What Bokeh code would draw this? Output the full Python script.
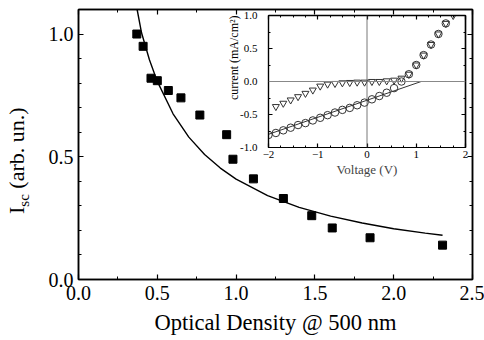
from bokeh.plotting import figure
from bokeh.models import Range1d, LinearAxis, FixedTicker, Span, NumeralTickFormatter, Div
from bokeh.layouts import column
from bokeh.embed import file_html
from bokeh.resources import INLINE

# ---- main panel data ----
od = [0.37, 0.41, 0.46, 0.50, 0.57, 0.65, 0.77, 0.94, 0.98, 1.11, 1.30, 1.48, 1.61, 1.85, 2.31]
isc = [1.00, 0.95, 0.82, 0.81, 0.77, 0.74, 0.67, 0.59, 0.49, 0.41, 0.33, 0.26, 0.21, 0.17, 0.14]
fit_od = [0.372, 0.40, 0.45, 0.50, 0.60, 0.70, 0.80, 0.90, 1.00, 1.20, 1.40, 1.60, 1.80, 2.00, 2.20, 2.31]
fit_isc = [1.10, 1.005, 0.895, 0.807, 0.675, 0.580, 0.509, 0.454, 0.409, 0.342, 0.294, 0.258, 0.230, 0.207, 0.189, 0.180]
x_major = [0.0, 0.5, 1.0, 1.5, 2.0, 2.5]
x_minor = [0.25, 0.75, 1.25, 1.75, 2.25]
y_major = [0.0, 0.5, 1.0]
y_minor = [0.1, 0.2, 0.3, 0.4, 0.6, 0.7, 0.8, 0.9, 1.1]

# ---- inset data ----
v_circ = [-2.0, -1.85, -1.7, -1.55, -1.4, -1.25, -1.1, -0.95, -0.8, -0.65, -0.5, -0.35, -0.2,
          -0.05, 0.1, 0.25, 0.4, 0.55, 0.7, 0.85, 1.0, 1.15, 1.3, 1.45, 1.6]
i_circ = [-0.81, -0.78, -0.74, -0.70, -0.66, -0.63, -0.59, -0.55, -0.51, -0.47, -0.43, -0.40, -0.36,
          -0.32, -0.27, -0.22, -0.17, -0.10, 0.00, 0.11, 0.25, 0.40, 0.56, 0.72, 0.88]
v_tri = [-1.85, -1.7, -1.55, -1.4, -1.25, -1.1, -0.95, -0.8, -0.65, -0.5, -0.35, -0.2, -0.05,
         0.1, 0.25, 0.4, 0.55, 0.7, 0.85, 1.0, 1.15, 1.3, 1.45, 1.6, 1.75]
i_tri = [-0.38, -0.33, -0.28, -0.23, -0.18, -0.13, -0.07, -0.04, -0.03, -0.02, -0.015, -0.01, -0.01,
         0.0, 0.0, 0.01, 0.02, 0.05, 0.11, 0.25, 0.40, 0.56, 0.72, 0.88, 1.0]
line_v = [-2.0, 1.1]
line_i = [-0.80, 0.0]
v_major = [-2, -1, 0, 1, 2]
v_minor = [-1.75, -1.5, -1.25, -0.75, -0.5, -0.25, 0.25, 0.5, 0.75, 1.25, 1.5, 1.75]
c_major = [-1.0, -0.5, 0.0, 0.5, 1.0]
c_minor = [-0.75, -0.25, 0.25, 0.75]

SERIF = "Liberation Serif"
BL, BR = 78, 12   # side borders shared by both plots (the column aligns frames)

p = figure(frame_width=394, frame_height=270, x_range=Range1d(0, 2.5), y_range=Range1d(0, 1.1),
           output_backend="svg", toolbar_location=None,
           min_border_left=BL, min_border_right=BR, min_border_top=9, min_border_bottom=52,
           background_fill_color="white", border_fill_color="white",
           outline_line_color="black", outline_line_width=1.5)
p.grid.visible = False


def style_axis(ax, major, minor, show_labels, fsize, standoff, tin=5, tmin=3):
    ax.ticker = FixedTicker(ticks=major, minor_ticks=minor)
    ax.major_tick_in = tin
    ax.major_tick_out = 0
    ax.minor_tick_in = tmin
    ax.minor_tick_out = 0
    ax.major_tick_line_color = "black"
    ax.minor_tick_line_color = "black"
    ax.major_tick_line_width = 1.2
    ax.minor_tick_line_width = 1
    ax.axis_line_color = "black"
    ax.axis_line_width = 1.5
    ax.major_label_text_font = SERIF
    ax.major_label_text_color = "black"
    if show_labels:
        ax.major_label_text_font_size = fsize
        ax.major_label_standoff = standoff
    else:
        ax.major_label_overrides = {t: "" for t in major}
        ax.major_label_text_font_size = "2px"
        ax.major_label_standoff = 0


style_axis(p.xaxis[0], x_major, x_minor, True, "20px", 6)
style_axis(p.yaxis[0], y_major, y_minor, True, "20px", 5)
p.xaxis[0].formatter = NumeralTickFormatter(format="0.0")
p.yaxis[0].formatter = NumeralTickFormatter(format="0.0")
p.xaxis[0].axis_label = "Optical Density @ 500 nm"
p.xaxis[0].axis_label_text_font = SERIF
p.xaxis[0].axis_label_text_font_size = "22.5px"
p.xaxis[0].axis_label_text_font_style = "normal"
p.xaxis[0].axis_label_text_color = "black"
p.xaxis[0].axis_label_standoff = 7

top_ax = LinearAxis()
style_axis(top_ax, x_major, x_minor, False, "0px", 0)
p.add_layout(top_ax, "above")
right_ax = LinearAxis()
style_axis(right_ax, y_major, y_minor, False, "0px", 0)
p.add_layout(right_ax, "right")

p.line(fit_od, fit_isc, line_color="black", line_width=1.4)
p.scatter(od, isc, marker="square", size=8, fill_color="black", line_color="black")

# ---- inset ----
q = figure(frame_width=197, frame_height=132, x_range=Range1d(-2, 2), y_range=Range1d(-1, 1),
           output_backend="svg", toolbar_location=None,
           min_border_left=BL, min_border_right=BR, min_border_top=8, min_border_bottom=30,
           background_fill_color=None, border_fill_color=None,
           outline_line_color="black", outline_line_width=1.2)
q.grid.visible = False
style_axis(q.xaxis[0], v_major, v_minor, True, "11px", 3, 4, 2)
style_axis(q.yaxis[0], c_major, c_minor, True, "11px", 11, 4, 2)
q.yaxis[0].formatter = NumeralTickFormatter(format="0.0")
q.xaxis[0].axis_label = "Voltage (V)"
q.xaxis[0].axis_label_text_font = SERIF
q.xaxis[0].axis_label_text_font_size = "13px"
q.xaxis[0].axis_label_text_font_style = "normal"
q.xaxis[0].axis_label_standoff = 1
for ax in (q.xaxis[0], q.yaxis[0]):
    ax.axis_line_width = 1.2
qt = LinearAxis()
style_axis(qt, v_major, v_minor, False, "0px", 0, 4, 2)
q.add_layout(qt, "above")
qr = LinearAxis()
style_axis(qr, c_major, c_minor, False, "0px", 0, 4, 2)
q.add_layout(qr, "right")

q.add_layout(Span(location=0, dimension="width", line_color="#888888", line_width=1.2))
q.add_layout(Span(location=0, dimension="height", line_color="#555555", line_width=0.8))
q.line(line_v, line_i, line_color="black", line_width=0.8)
q.scatter(v_circ, i_circ, marker="circle", size=7.5, fill_color=None, line_color="#333333", line_width=1)
q.scatter(v_tri, i_tri, marker="inverted_triangle", size=7, fill_color=None, line_color="#333333", line_width=1)
q.styles = {"position": "absolute", "left": "190px", "top": "7px"}

# rotated axis titles as HTML text
ylab = Div(text=("<span style=\"font-family:'Liberation Serif';font-size:22px;white-space:nowrap;color:black\">"
                 "I<sub style=\"font-size:15px\">sc</sub> (arb. un.)</span>"),
           width=140, height=32, margin=(0, 0, 0, 0),
           styles={"position": "absolute", "left": "1px", "top": "214px",
                   "transform": "rotate(-90deg)", "transform-origin": "0 0"})
ilab = Div(text=("<span style=\"font-family:'Liberation Serif';font-size:12px;white-space:nowrap;color:black\">"
                 "current (mA/cm²)</span>"),
           width=100, height=16, margin=(0, 0, 0, 0),
           styles={"position": "absolute", "left": "226px", "top": "100px",
                   "transform": "rotate(-90deg)", "transform-origin": "0 0"})

layout = column(p, q, ylab, ilab)
open("out.html", "w").write(file_html(layout, INLINE))
